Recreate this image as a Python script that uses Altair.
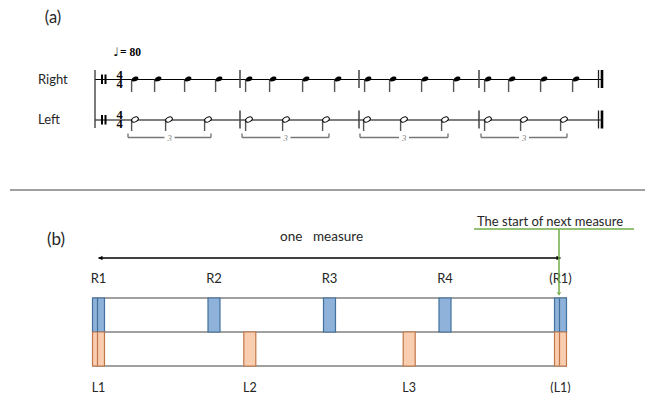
import altair as alt
import pandas as pd

# ---------------- data ----------------
hands = ["Right", "Left"]
staff_y = [79.5, 120]
tempo_note = "\u2669"
tempo_value = "= 80"
time_sig = ["4", "4"]
barlines_x = [240, 359, 479]
right_note_x = [135, 158, 188, 219, 249, 273, 306, 338, 368, 393, 425, 457, 488, 512, 544, 576]
left_note_x = [135, 169, 208, 249, 286, 326, 367, 404, 445, 488, 524, 564]
triplet_label = "3"

right_beats = [0, 1, 2, 3, 4]
right_labels = ["R1", "R2", "R3", "R4", "(R1)"]
left_beats = [0, 1.31, 2.69, 4]
left_labels = ["L1", "L2", "L3", "(L1)"]
measure_words = ["one", "measure"]
next_label = "The start of next measure"

# ---------------- layout ----------------
X0, PPB = 98.5, 115.5          # beat 0 position, pixels per beat in panel (b)
def bx(b):
    return X0 + b * PPB

XS = alt.Scale(domain=[8, 647], nice=False, zero=False)
YS = alt.Scale(domain=[393, 8], nice=False, zero=False)

def X(f="x"):
    return alt.X(f"{f}:Q", scale=XS, axis=None)

def Y(f="y"):
    return alt.Y(f"{f}:Q", scale=YS, axis=None)

def rules(rows, **kw):
    df = pd.DataFrame(rows, columns=["x", "y", "x2", "y2"])
    return alt.Chart(df).mark_rule(**kw).encode(x=X(), y=Y(), x2="x2:Q", y2="y2:Q")

def rects(rows, **kw):
    df = pd.DataFrame(rows, columns=["x", "y", "x2", "y2"])
    return alt.Chart(df).mark_rect(**kw).encode(x=X(), y=Y(), x2="x2:Q", y2="y2:Q")

def texts(rows, **kw):
    df = pd.DataFrame(rows, columns=["x", "y", "t"])
    return alt.Chart(df).mark_text(**kw).encode(x=X(), y=Y(), text="t:N")

def points(rows, **kw):
    df = pd.DataFrame(rows, columns=["x", "y"])
    return alt.Chart(df).mark_point(**kw).encode(x=X(), y=Y())

HEAD = ("M -1 0 C -1 -0.36 -0.55 -0.65 0 -0.65 C 0.55 -0.65 1 -0.36 1 0 "
        "C 1 0.36 0.55 0.65 0 0.65 C -0.55 0.65 -1 0.36 -1 0 Z")
SANS = "Lato"
SERIF = "Liberation Serif"
TXT = "#262626"

layers = []

# ---------------- panel (a): notation ----------------
layers.append(texts([(53, 18, "(a)")], font=SANS, fontSize=16.5, color=TXT, align="center", baseline="middle"))
layers.append(texts([(116, 52, tempo_note)], font="DejaVu Sans", fontSize=12, color="black",
                    align="center", baseline="middle"))
layers.append(texts([(120, 53, tempo_value)], font=SERIF, fontSize=11.5, fontWeight="bold", color="black",
                    align="left", baseline="middle"))
layers.append(texts([(38, y, h) for h, y in zip(hands, staff_y)], font=SANS, fontSize=13, color=TXT,
                    align="left", baseline="middle"))

# staff lines and system line
layers.append(rules([(95, y, 602, y) for y in staff_y], color="black", strokeWidth=1.1))
layers.append(rules([(95, 70, 95, 128)], color="#333333", strokeWidth=1.3))
# percussion clef bars
layers.append(rules([(cx, y - 5, cx, y + 4.5) for y in staff_y for cx in (102, 105.5)],
                    color="black", strokeWidth=2))
# time signatures
layers.append(texts([(119.5, y - 4.6, time_sig[0]) for y in staff_y] +
                    [(119.5, y + 4.0, time_sig[1]) for y in staff_y],
                    font=SERIF, fontSize=12.5, fontWeight="bold", color="black",
                    align="center", baseline="middle"))
# barlines
layers.append(rules([(b, y - 9.5, b, y + 8.5) for b in barlines_x for y in staff_y],
                    color="#444444", strokeWidth=1.5))
layers.append(rules([(598.5, y - 9.5, 598.5, y + 8.5) for y in staff_y], color="#222222", strokeWidth=1.3))
layers.append(rules([(602, y - 9.5, 602, y + 8.5) for y in staff_y], color="black", strokeWidth=2.6))

# right hand quarter notes
layers.append(rules([(x - 3.4, staff_y[0], x - 3.4, 92) for x in right_note_x], color="#555555", strokeWidth=1.4))
layers.append(points([(x, staff_y[0] - 0.5) for x in right_note_x], shape=HEAD, size=52, angle=335,
                     filled=True, color="black", opacity=1))
# left hand half-note triplets
layers.append(rules([(x - 3.4, staff_y[1], x - 3.4, 131) for x in left_note_x], color="#555555", strokeWidth=1.4))
layers.append(points([(x, staff_y[1] - 0.5) for x in left_note_x], shape=HEAD, size=50, angle=335,
                     filled=True, color="white", opacity=1))
layers.append(points([(x, staff_y[1] - 0.5) for x in left_note_x], shape=HEAD, size=50, angle=335,
                     filled=False, color="black", strokeWidth=1.0, opacity=1))

br_rows, tick_rows, lab_rows = [], [], []
for i in range(0, len(left_note_x), 3):
    s, e = left_note_x[i] - 7, left_note_x[i + 2] + 3
    m = (s + e) / 2
    br_rows += [(s, 137.5, m - 5, 137.5), (m + 5, 137.5, e, 137.5)]
    tick_rows += [(s, 133.5, s, 137.5), (e, 133.5, e, 137.5)]
    lab_rows.append((m, 138, triplet_label))
layers.append(rules(br_rows + tick_rows, color="#777777", strokeWidth=1.4))
layers.append(texts(lab_rows, font=SERIF, fontSize=8.5, fontStyle="italic", color="#777777",
                    align="center", baseline="middle"))

# divider
layers.append(rules([(10, 190, 645, 190)], color="#808080", strokeWidth=1.5))

# ---------------- panel (b): timing ----------------
layers.append(texts([(56, 240, "(b)")], font=SANS, fontSize=17, color=TXT, align="center", baseline="middle"))
layers.append(texts([(280, 237, measure_words[0])], font=SANS, fontSize=13.5, color=TXT,
                    align="left", baseline="middle"))
layers.append(texts([(313, 237, measure_words[1])], font=SANS, fontSize=13.5, color=TXT,
                    align="left", baseline="middle"))
layers.append(rules([(bx(0), 258, bx(4), 258)], color="black", strokeWidth=1.3))
layers.append(points([(bx(0) + 2, 258)], shape="triangle-left", size=22, filled=True, color="black", opacity=1))
layers.append(points([(bx(4) - 2, 258)], shape="triangle-right", size=22, filled=True, color="black", opacity=1))

layers.append(texts([(bx(b), 279, t) for b, t in zip(right_beats, right_labels)], font=SANS, fontSize=13,
                    color=TXT, align="center", baseline="middle"))
layers.append(texts([(bx(b), 387.5, t) for b, t in zip(left_beats, left_labels)], font=SANS, fontSize=12.5,
                    color=TXT, align="center", baseline="middle"))

layers.append(rules([(bx(0) - 6, y, bx(4) + 6.5, y) for y in (298, 332, 366)], color="#808080", strokeWidth=1.5))

layers.append(rects([(bx(b) - 6, 298, bx(b) + 6, 332) for b in right_beats],
                    fill="#8EB2DA", stroke="#41719C", strokeWidth=1.2))
layers.append(rects([(bx(b) - 6, 332, bx(b) + 6, 366) for b in left_beats],
                    fill="#F8CDB0", stroke="#C27748", strokeWidth=1.2))
layers.append(rules([(bx(b) - 1, 298, bx(b) - 1, 332) for b in (right_beats[0], right_beats[-1])],
                    color="#41719C", strokeWidth=1.2))
layers.append(rules([(bx(b) - 1, 332, bx(b) - 1, 366) for b in (left_beats[0], left_beats[-1])],
                    color="#C27748", strokeWidth=1.2))

# green "start of next measure" marker
GREEN = "#70AD47"
layers.append(texts([(477, 222, next_label)], font=SANS, fontSize=13, color=TXT, align="left", baseline="middle"))
layers.append(rules([(474, 229, 634, 229), (bx(4) - 1.5, 229, bx(4) - 1.5, 292)], color=GREEN, strokeWidth=1.5))
layers.append(points([(bx(4) - 1.5, 294)], shape="triangle-down", size=18, filled=True, color=GREEN, opacity=1))

chart = alt.layer(*layers).properties(
    width=639, height=385, autosize="none", padding=0
).configure_view(stroke=None)

chart.save("out.html", embed_options={"renderer": "svg", "actions": False})
